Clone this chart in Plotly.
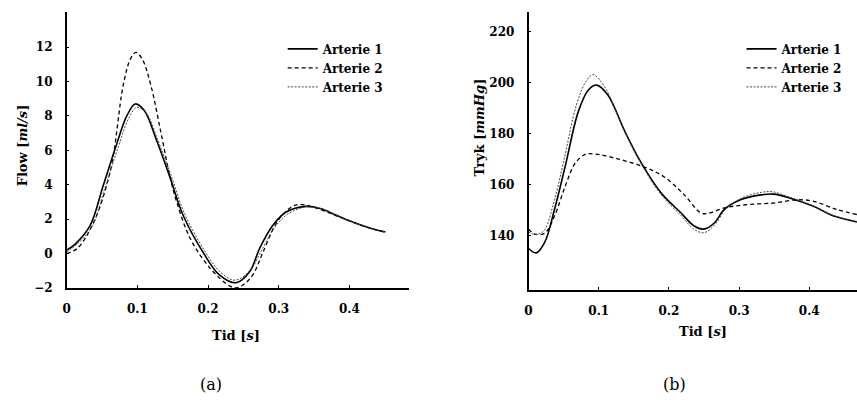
import plotly.graph_objects as go

# ---------------- data: (a) Flow [ml/s] ----------------
flow_t1 = [0.0, 0.012, 0.033, 0.052, 0.071, 0.085, 0.097, 0.110, 0.127, 0.146, 0.165, 0.194, 0.216, 0.240,
           0.259, 0.273, 0.291, 0.310, 0.338, 0.360, 0.380, 0.400, 0.420, 0.440, 0.451]
flow_a1 = [0.2, 0.55, 1.62, 4.0, 6.4, 8.0, 8.7, 8.3, 6.6, 4.45, 2.2, 0.0, -1.24, -1.7,
           -1.05, 0.3, 1.6, 2.4, 2.74, 2.6, 2.25, 1.9, 1.6, 1.35, 1.25]

flow_t2 = [0.0, 0.015, 0.038, 0.062, 0.080, 0.090, 0.098, 0.107, 0.119, 0.133, 0.146, 0.156, 0.175, 0.203,
           0.231, 0.240, 0.252, 0.264, 0.278, 0.297, 0.316, 0.329, 0.355, 0.380, 0.400, 0.420, 0.440, 0.451]
flow_a2 = [0.0, 0.3, 1.8, 4.86, 9.8, 11.3, 11.7, 11.3, 9.8, 7.1, 4.5, 2.95, 0.86, -0.86,
           -1.9, -2.0, -1.75, -1.2, 0.1, 1.8, 2.65, 2.86, 2.62, 2.22, 1.9, 1.6, 1.35, 1.25]

flow_t3 = [0.0, 0.012, 0.035, 0.054, 0.073, 0.087, 0.099, 0.112, 0.129, 0.148, 0.167, 0.196, 0.218, 0.238,
           0.258, 0.276, 0.294, 0.313, 0.340, 0.362, 0.380, 0.400, 0.420, 0.440, 0.451]
flow_a3 = [0.1, 0.45, 1.5, 3.8, 6.2, 7.8, 8.5, 8.2, 6.6, 4.5, 2.3, 0.1, -1.1, -1.55,
           -1.05, 0.2, 1.5, 2.3, 2.72, 2.58, 2.24, 1.9, 1.6, 1.35, 1.22]

# ---------------- data: (b) Tryk [mmHg] ----------------
p_t1 = [0.0, 0.011, 0.023, 0.037, 0.052, 0.071, 0.085, 0.097, 0.113, 0.137, 0.160, 0.189, 0.217, 0.236,
        0.250, 0.265, 0.279, 0.302, 0.331, 0.349, 0.373, 0.406, 0.435, 0.468]
p_a1 = [135.0, 133.3, 137.4, 150.3, 166.9, 188.7, 197.0, 199.0, 195.1, 181.0, 168.8, 156.7, 149.0, 143.8,
        142.6, 145.1, 150.3, 154.1, 156.0, 156.3, 154.7, 151.5, 147.7, 145.4]

p_t2 = [0.0, 0.009, 0.023, 0.037, 0.052, 0.066, 0.080, 0.094, 0.127, 0.165, 0.193, 0.222, 0.245, 0.255,
        0.279, 0.312, 0.349, 0.383, 0.406, 0.439, 0.468]
p_a2 = [142.6, 140.6, 141.0, 147.7, 159.2, 168.2, 171.8, 172.0, 170.1, 166.9, 163.1, 156.0, 149.0, 148.7,
        150.9, 152.2, 152.8, 154.1, 153.5, 150.3, 148.3]

p_t3 = [0.0, 0.010, 0.022, 0.035, 0.050, 0.068, 0.082, 0.092, 0.108, 0.135, 0.160, 0.189, 0.217, 0.236,
        0.250, 0.266, 0.281, 0.304, 0.332, 0.348, 0.373, 0.406, 0.435, 0.468]
p_a3 = [141.5, 140.5, 142.0, 152.0, 169.0, 191.0, 200.5, 203.1, 198.5, 182.0, 168.5, 156.0, 148.0, 142.5,
        141.2, 144.5, 150.5, 154.8, 157.0, 157.2, 155.0, 151.8, 147.9, 145.6]

series_names = ["Arterie 1", "Arterie 2", "Arterie 3"]
flow_ticks = [-2, 0, 2, 4, 6, 8, 10, 12]
p_ticks = [140, 160, 180, 200, 220]
t_ticks = [0, 0.1, 0.2, 0.3, 0.4]
t_ticklabels = ["0", "0.1", "0.2", "0.3", "0.4"]

# ---------------- styling ----------------
FONT = "DejaVu Serif"
styles = [
    dict(color="black", width=1.6, dash="solid"),
    dict(color="black", width=1.3, dash="4px,3px"),
    dict(color="#444444", width=1.0, dash="2px,1.5px"),
]

fig = go.Figure()

flow_data = [(flow_t1, flow_a1), (flow_t2, flow_a2), (flow_t3, flow_a3)]
p_data = [(p_t1, p_a1), (p_t2, p_a2), (p_t3, p_a3)]

for name, (t, v), st in zip(series_names, flow_data, styles):
    fig.add_trace(go.Scatter(x=t, y=v, mode="lines", name=name, line=dict(shape="spline", smoothing=1.0, **st),
                             xaxis="x", yaxis="y", legend="legend"))
for name, (t, v), st in zip(series_names, p_data, styles):
    fig.add_trace(go.Scatter(x=t, y=v, mode="lines", name=name, line=dict(shape="spline", smoothing=1.0, **st),
                             xaxis="x2", yaxis="y2", legend="legend2"))

W, H = 857, 403
tickfont = dict(family=FONT, size=12, color="black", weight="bold")

def xax(domain, rng):
    return dict(domain=domain, range=rng, showgrid=False, zeroline=False, showline=True, linecolor="black",
                linewidth=1.5, ticks="inside", ticklen=3, tickcolor="black", tickvals=t_ticks,
                ticktext=t_ticklabels, tickfont=tickfont, ticklabelstandoff=9)

def yax(domain, rng, ticks, anchor):
    return dict(domain=domain, range=rng, showgrid=False, zeroline=False, showline=True, linecolor="black",
                linewidth=1.5, ticks="inside", ticklen=3, tickcolor="black", tickvals=ticks,
                tickfont=tickfont, anchor=anchor, ticklabelstandoff=10)

legfont = dict(family=FONT, size=12, color="black", weight="bold")

fig.update_layout(
    width=W, height=H, margin=dict(l=0, r=0, t=0, b=0),
    paper_bgcolor="white", plot_bgcolor="white", showlegend=True,
    xaxis=xax([63 / W, 407 / W], [0, 0.4845]) | dict(anchor="y"),
    yaxis=yax([(H - 293) / H, (H - 12) / H], [-2, 14.06], flow_ticks, "x"),
    xaxis2=xax([527 / W, 1.0], [0, 0.468]) | dict(anchor="y2"),
    yaxis2=yax([(H - 295) / H, (H - 12) / H], [118.8, 227.7], p_ticks, "x2"),
    legend=dict(x=280 / W, y=1 - 35 / H, xanchor="left", yanchor="top", font=legfont, bgcolor="rgba(0,0,0,0)",
                itemwidth=30, tracegroupgap=0),
    legend2=dict(x=741 / W, y=1 - 35 / H, xanchor="left", yanchor="top", font=legfont, bgcolor="rgba(0,0,0,0)",
                 itemwidth=30, tracegroupgap=0),
)

titlefont = dict(family=FONT, size=13, color="black", weight="bold")
ann = [
    dict(text="Flow [<i>ml/s</i>]", x=19 / W, y=1 - 148 / H, textangle=-90),
    dict(text="Tryk [<i>mmHg</i>]", x=478 / W, y=1 - 130 / H, textangle=-90),
    dict(text="Tid [<i>s</i>]", x=233 / W, y=1 - 341 / H),
    dict(text="Tid [<i>s</i>]", x=702 / W, y=1 - 337 / H),
]
for a in ann:
    fig.add_annotation(xref="paper", yref="paper", xanchor="center", yanchor="middle", showarrow=False,
                       font=titlefont, **a)
for txt, xx in [("(a)", 208), ("(b)", 674)]:
    fig.add_annotation(xref="paper", yref="paper", x=xx / W, y=1 - 391 / H, xanchor="center", yanchor="middle",
                       showarrow=False, text=txt, font=dict(family=FONT, size=16, color="black"))

fig.write_html("out.html")
